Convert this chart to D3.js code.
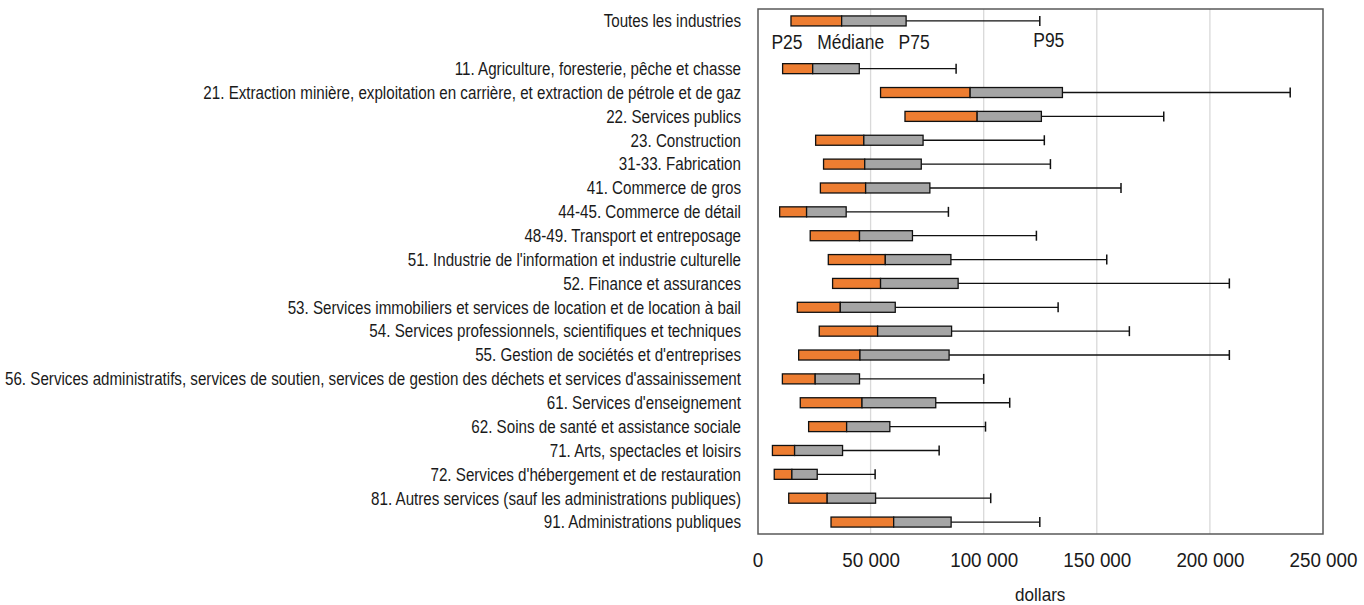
<!DOCTYPE html>
<html>
<head>
<meta charset="utf-8">
<script src="https://cdn.jsdelivr.net/npm/d3@7.9.0/dist/d3.min.js"></script>
<style>
  body { margin: 0; background: #fff; }
  svg { display: block; }
  text { font-family: "Liberation Sans Narrow", "Arial Narrow", "Liberation Sans", sans-serif; fill: #1a1a1a; }
</style>
</head>
<body>
<svg id="chart" width="1364" height="605"></svg>
<script>
// industries, top to bottom
const categories = [
  "Toutes les industries",
  "11. Agriculture, foresterie, pêche et chasse",
  "21. Extraction minière, exploitation en carrière, et extraction de pétrole et de gaz",
  "22. Services publics",
  "23. Construction",
  "31-33. Fabrication",
  "41. Commerce de gros",
  "44-45. Commerce de détail",
  "48-49. Transport et entreposage",
  "51. Industrie de l'information et industrie culturelle",
  "52. Finance et assurances",
  "53. Services immobiliers et services de location et de location à bail",
  "54. Services professionnels, scientifiques et techniques",
  "55. Gestion de sociétés et d'entreprises",
  "56. Services administratifs, services de soutien, services de gestion des déchets et services d'assainissement",
  "61. Services d'enseignement",
  "62. Soins de santé et assistance sociale",
  "71. Arts, spectacles et loisirs",
  "72. Services d'hébergement et de restauration",
  "81. Autres services (sauf les administrations publiques)",
  "91. Administrations publiques"
];

const p25 = [14800, 11100, 54400, 65200, 25700, 29200, 27800, 9800, 23300, 31300, 33200,
             17600, 27300, 18200, 11000, 18900, 22600, 6600, 7400, 13800, 32500];
const median = [37200, 24400, 94000, 97100, 47000, 47400, 47800, 21700, 45100, 56500, 54400,
                36600, 53100, 45300, 25500, 46200, 39400, 16400, 15200, 30800, 60200];
const p75 = [65700, 45000, 134800, 125500, 73200, 72400, 76200, 39200, 68500, 85500, 88700,
             60900, 85800, 84700, 45100, 78800, 58500, 37600, 26400, 52200, 85600];
const p95 = [124800, 87800, 235500, 179600, 126800, 129500, 160700, 84400, 123300, 154400, 208600,
             132900, 164400, 208600, 100000, 111500, 100800, 80300, 52000, 103100, 124800];

const xTicks = [0, 50000, 100000, 150000, 200000, 250000];
const xTitle = "dollars";
const legendLabels = ["P25", "Médiane", "P75", "P95"];

const margin = { top: 9, right: 41, bottom: 71, left: 758 };
const width = 1364, height = 605;

const svg = d3.select('#chart');

// squeeze text so the wide fallback face looks like the condensed original
function condense(sel, factor) {
  sel.each(function () {
    const w = this.getComputedTextLength();
    d3.select(this).attr('textLength', w * factor).attr('lengthAdjust', 'spacingAndGlyphs');
  });
}

const x = d3.scaleLinear()
  .domain([0, 250000])
  .range([margin.left - 0.5, width - margin.right]);

// one empty slot under "Toutes les industries" holds the legend words
const slot = (i) => (i === 0 ? 0 : i + 1);
const y = d3.scaleBand()
  .domain(d3.range(categories.length + 1))
  .range([margin.top, height - margin.bottom]);
const yc = (i) => y(slot(i)) + y.bandwidth() / 2;

// gridlines
svg.append('g')
  .selectAll('line')
  .data(xTicks.slice(1, -1))
  .join('line')
  .attr('x1', (d) => x(d)).attr('x2', (d) => x(d))
  .attr('y1', margin.top).attr('y2', height - margin.bottom)
  .attr('stroke', '#d9d9d9')
  .attr('stroke-width', 1.3);

// x axis labels
const xAxis = d3.axisBottom(x)
  .tickValues(xTicks)
  .tickSize(0)
  .tickPadding(19)
  .tickFormat((d) => d3.format(',')(d).replace(/,/g, ' '));

const tickText = svg.append('g')
  .attr('transform', `translate(0,${height - margin.bottom})`)
  .call(xAxis)
  .call((g) => g.select('.domain').remove())
  .selectAll('text')
  .attr('font-size', 20)
  .style('font-family', '"Liberation Sans Narrow", "Arial Narrow", "Liberation Sans", sans-serif')
  .attr('fill', '#1a1a1a');
const w100k = tickText.filter((d) => d === 100000).node().getComputedTextLength();
condense(tickText, Math.min(1, 68 / w100k));

svg.append('text')
  .attr('x', (x(0) + x(250000)) / 2)
  .attr('y', 601)
  .attr('text-anchor', 'middle')
  .attr('font-size', 19)
  .text(xTitle)
  .call(condense, 0.9);

// category labels
const labels = svg.append('g')
  .selectAll('text')
  .data(categories)
  .join('text')
  .attr('x', margin.left - 17)
  .attr('y', (d, i) => yc(i))
  .attr('dy', '0.36em')
  .attr('text-anchor', 'end')
  .attr('font-size', 17.5)
  .text((d) => d);

const longest = d3.max(labels.nodes(), (n) => n.getComputedTextLength());
condense(labels, Math.min(1, 736 / longest));

const boxH = 10;
const rows = svg.append('g')
  .selectAll('g')
  .data(categories)
  .join('g');

// whisker to P95
rows.append('line')
  .attr('x1', (d, i) => x(p75[i])).attr('x2', (d, i) => x(p95[i]))
  .attr('y1', (d, i) => yc(i)).attr('y2', (d, i) => yc(i))
  .attr('stroke', '#111').attr('stroke-width', 1.3);
rows.append('line')
  .attr('x1', (d, i) => x(p95[i])).attr('x2', (d, i) => x(p95[i]))
  .attr('y1', (d, i) => yc(i) - 5).attr('y2', (d, i) => yc(i) + 5)
  .attr('stroke', '#111').attr('stroke-width', 1.5);

// P25 to median
rows.append('rect')
  .attr('x', (d, i) => x(p25[i]))
  .attr('width', (d, i) => x(median[i]) - x(p25[i]))
  .attr('y', (d, i) => yc(i) - boxH / 2)
  .attr('height', boxH)
  .attr('fill', '#ed7d31')
  .attr('stroke', '#111').attr('stroke-width', 1.3);

// median to P75
rows.append('rect')
  .attr('x', (d, i) => x(median[i]))
  .attr('width', (d, i) => x(p75[i]) - x(median[i]))
  .attr('y', (d, i) => yc(i) - boxH / 2)
  .attr('height', boxH)
  .attr('fill', '#a5a5a5')
  .attr('stroke', '#111').attr('stroke-width', 1.3);

// legend words under the first row
const legendX = [x(p25[0]) - 4, x(median[0]) + 9, x(p75[0]) + 8, x(p95[0]) + 9];
const legendY = [49, 49, 49, 47];
const legendText = svg.append('g')
  .selectAll('text')
  .data(legendLabels)
  .join('text')
  .attr('x', (d, i) => legendX[i])
  .attr('y', (d, i) => legendY[i])
  .attr('text-anchor', 'middle')
  .attr('font-size', 19.5)
  .text((d) => d);
const wMed = legendText.filter((d) => d === 'Médiane').node().getComputedTextLength();
condense(legendText, Math.min(1, 67 / wMed));

// plot frame
svg.append('rect')
  .attr('x', margin.left)
  .attr('y', margin.top)
  .attr('width', width - margin.right - margin.left)
  .attr('height', height - margin.bottom - margin.top)
  .attr('fill', 'none')
  .attr('stroke', '#595959')
  .attr('stroke-width', 1.5);
</script>
</body>
</html>
